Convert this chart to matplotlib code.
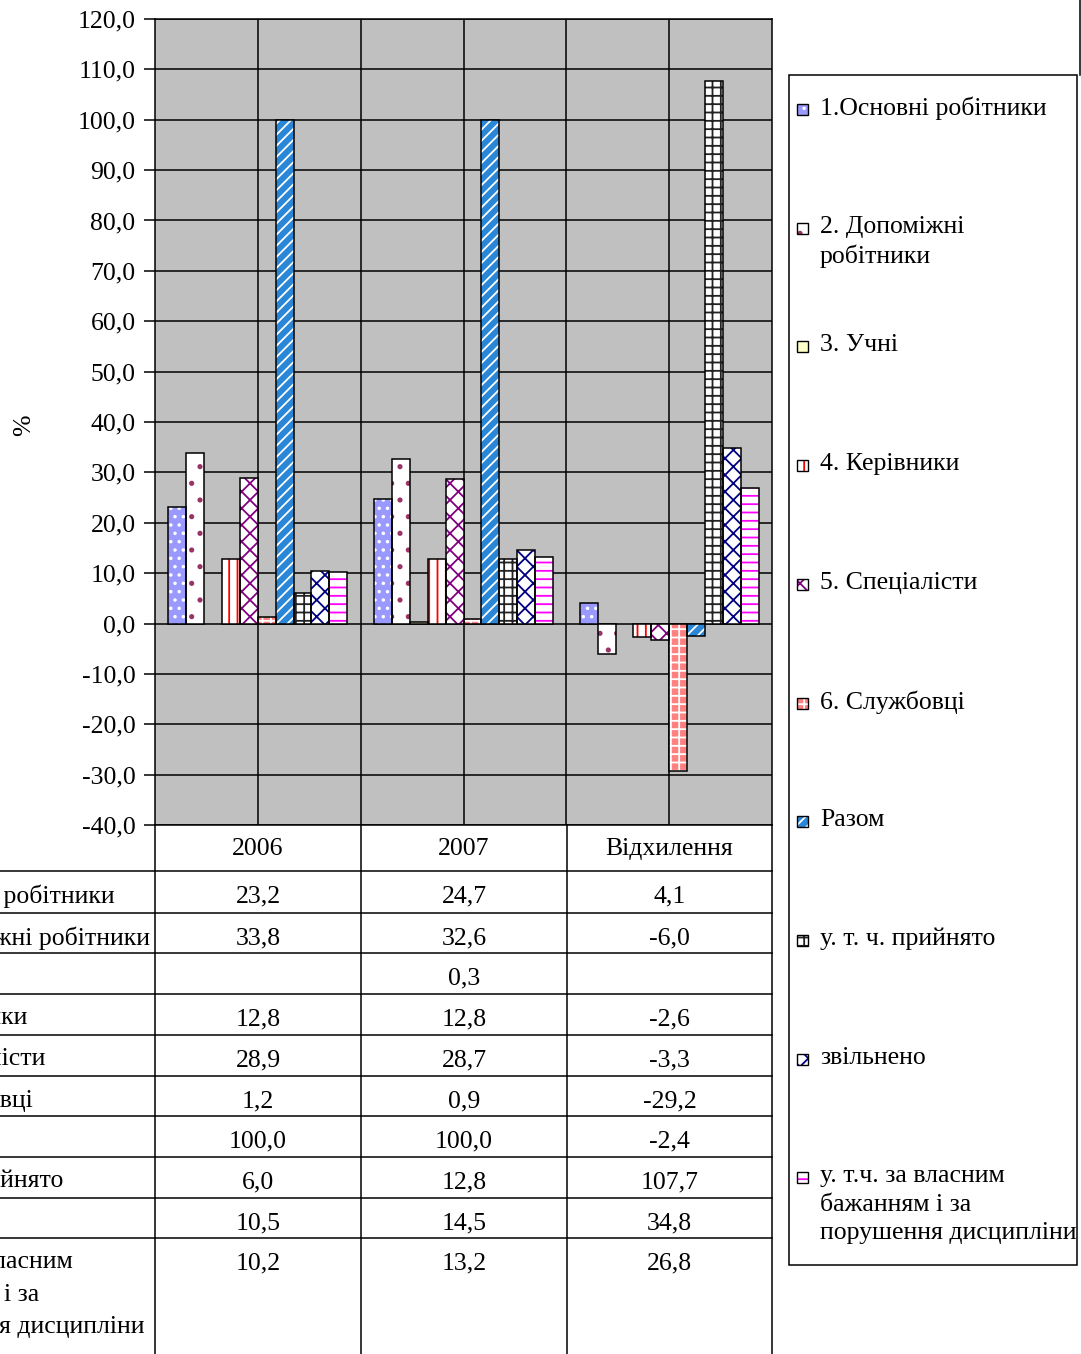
import numpy as np
import matplotlib
matplotlib.use('Agg')
import matplotlib.pyplot as plt
from matplotlib.patches import Rectangle
from matplotlib.transforms import Affine2D

plt.rcParams['font.family'] = ['Liberation Serif', 'DejaVu Serif']
plt.rcParams['hatch.linewidth'] = 1.3

# Data
columns = ['2006', '2007', 'Відхилення']
series = ['1.Основні робітники', '2. Допоміжні робітники', '3. Учні',
          '4. Керівники', '5. Спеціалісти', '6. Службовці', 'Разом',
          'у. т. ч. прийнято', 'звільнено',
          'у. т.ч. за власним бажанням і за порушення дисципліни']
legend_labels = ['1.Основні робітники', '2. Допоміжні\nробітники', '3. Учні',
                 '4. Керівники', '5. Спеціалісти', '6. Службовці', 'Разом',
                 'у. т. ч. прийнято', 'звільнено',
                 'у. т.ч. за власним\nбажанням і за\nпорушення дисципліни']
table_labels = series[:9] + ['у. т.ч. за власним\nбажанням і за\nпорушення дисципліни']
v2006 = [23.2, 33.8, np.nan, 12.8, 28.9, 1.2, 100.0, 6.0, 10.5, 10.2]
v2007 = [24.7, 32.6, 0.3, 12.8, 28.7, 0.9, 100.0, 12.8, 14.5, 13.2]
vdev = [4.1, -6.0, np.nan, -2.6, -3.3, -29.2, -2.4, 107.7, 34.8, 26.8]
yticks = np.arange(-40, 121, 10)

# Excel-like fills: (face, hatch, hatch colour)
styles = [
    ('#9999FF', '..', 'white'),
    ('white', '.', '#993366'),
    ('#FFFFCC', '', '#FFFFCC'),
    ('white', '||', '#FF0000'),
    ('white', 'xx', '#800080'),
    ('#FF8080', '++', 'white'),
    ('#2A86D6', '///', 'white'),
    ('white', '++', '#222222'),
    ('white', 'xx', '#000080'),
    ('white', '--', '#FF00FF'),
]

FS = 18.5
W, H = 1081, 1354
fig = plt.figure(figsize=(W / 100, H / 100), dpi=100)
pix = Affine2D().scale(1 / W, -1 / H).translate(0, 1) + fig.transFigure

ax = fig.add_axes([155 / W, 1 - 825 / H, 617 / W, 806 / H])
ax.set_facecolor('#C0C0C0')

data = np.array([v2006, v2007, vdev])
n = len(series)
bw = 1 / 11.5
x = np.arange(len(columns))
for i in range(n):
    face, hatch, hc = styles[i]
    xi = x - 0.5 + (0.75 + i + 0.5) * bw
    ax.bar(xi, data[:, i], bw, color=face, hatch=hatch, edgecolor=hc, lw=0, zorder=3)
    ax.bar(xi, data[:, i], bw, fill=False, edgecolor='black', lw=1.1, zorder=4)

ax.set_xlim(-0.5, 2.5)
ax.set_ylim(-40, 120)
ax.set_yticks(yticks)
ax.set_yticklabels([f'{t:.1f}'.replace('.', ',') for t in yticks], fontsize=FS)
ax.tick_params(axis='y', direction='out', length=8, width=1.1, pad=6)
ax.set_xticks([])
ax.yaxis.grid(True, color='black', lw=1.1, zorder=1)
ax.set_axisbelow(True)
for xv in [0, 0.5, 1, 1.5, 2]:
    ax.axvline(xv, color='black', lw=1.1, zorder=1)
for s in ax.spines.values():
    s.set_color('black')
    s.set_linewidth(1.1)
ax.set_ylabel('%', fontsize=FS)
ax.yaxis.set_label_coords(-0.195, 0.496)

# Data table below the plot
col_x = [155, 361, 567, 772]
row_tops = [825, 871, 913, 953, 994, 1035, 1076, 1116, 1157, 1198, 1238]
for y in row_tops[1:]:
    fig.add_artist(plt.Line2D([0, 772], [y, y], transform=pix, color='black', lw=1.1))
for xv in col_x:
    fig.add_artist(plt.Line2D([xv, xv], [825, H], transform=pix, color='black', lw=1.1))
for j, c in enumerate(columns):
    cx = (col_x[j] + col_x[j + 1]) / 2
    fig.text(cx, row_tops[0] + 24, c, transform=pix, ha='center', va='center', fontsize=FS)
    for i in range(n):
        v = data[j, i]
        if not np.isnan(v):
            fig.text(cx, row_tops[i + 1] + 25, f'{v:.1f}'.replace('.', ','), transform=pix,
                     ha='center', va='center', fontsize=FS)
for i, lab in enumerate(table_labels):
    fig.text(-112, row_tops[i + 1] + 13, lab, transform=pix, ha='left', va='top',
             fontsize=FS, linespacing=1.62)

# Legend
fig.add_artist(Rectangle((789, 75), 288, 1190, transform=pix, fill=False,
                         edgecolor='black', lw=1.1))
fig.add_artist(plt.Line2D([1080, 1080], [0, 75], transform=pix, color='black', lw=1.1))
for i, lab in enumerate(legend_labels):
    y = 109 + i * 118.7
    face, hatch, hc = styles[i]
    fig.add_artist(Rectangle((797, y - 5), 11, 11, transform=pix, facecolor=face,
                             hatch=hatch, edgecolor=hc, lw=0))
    fig.add_artist(Rectangle((797, y - 5), 11, 11, transform=pix, fill=False,
                             edgecolor='black', lw=1))
    fig.text(820, y - 12, lab, transform=pix, ha='left', va='top', fontsize=FS,
             linespacing=1.38)

fig.savefig('out.png', dpi=100, facecolor='white')
